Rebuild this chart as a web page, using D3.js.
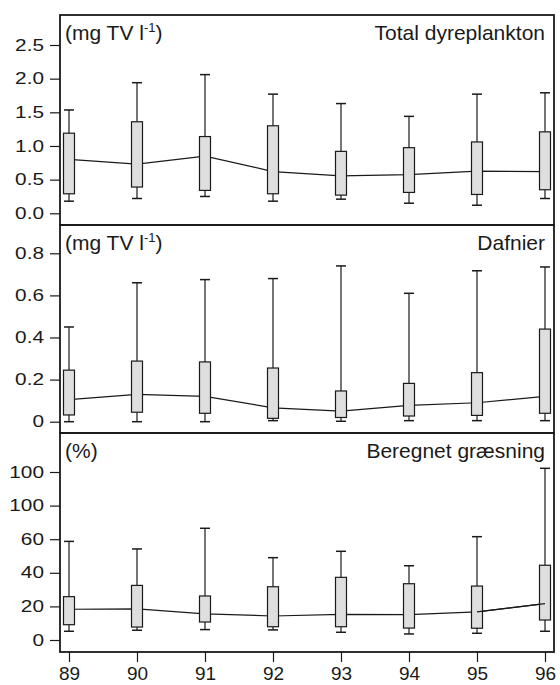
<!DOCTYPE html>
<html>
<head>
<meta charset="utf-8">
<script src="https://cdn.jsdelivr.net/npm/d3@7"></script>
<style>
  html, body { margin: 0; padding: 0; background: #fff; }
  svg { display: block; font-family: Arial, "Liberation Sans", sans-serif; }
</style>
</head>
<body>
<svg id="chart" width="560" height="685"></svg>
<script>
// Years (x categories)
const years = ["89", "90", "91", "92", "93", "94", "95", "96"];

// Total dyreplankton (mg TV l-1): whisker low, box low, median, box high, whisker high
const totalLow    = [0.18, 0.22, 0.25, 0.18, 0.21, 0.15, 0.12, 0.22];
const totalQ1     = [0.29, 0.39, 0.34, 0.29, 0.27, 0.31, 0.28, 0.35];
const totalMedian = [0.80, 0.73, 0.85, 0.62, 0.555, 0.575, 0.625, 0.62];
const totalQ3     = [1.19, 1.36, 1.14, 1.30, 0.92, 0.975, 1.06, 1.21];
const totalHigh   = [1.535, 1.94, 2.06, 1.77, 1.63, 1.44, 1.77, 1.79];

// Dafnier (mg TV l-1)
const dafLow    = [0.0, 0.0, 0.0, 0.005, 0.002, 0.005, 0.005, 0.005];
const dafQ1     = [0.032, 0.045, 0.04, 0.016, 0.02, 0.027, 0.03, 0.04];
const dafMedian = [0.105, 0.13, 0.12, 0.066, 0.05, 0.078, 0.09, 0.12];
const dafQ3     = [0.245, 0.288, 0.284, 0.255, 0.146, 0.182, 0.233, 0.44];
const dafHigh   = [0.45, 0.66, 0.675, 0.68, 0.74, 0.61, 0.717, 0.735];

// Beregnet græsning (%)
const grazLow    = [5.2, 5.8, 6.2, 6.0, 4.6, 3.6, 4.0, 5.2];
const grazQ1     = [9.1, 7.7, 10.7, 7.9, 7.9, 7.1, 7.0, 11.9];
const grazMedian = [18.3, 18.5, 15.5, 14.3, 15.3, 15.1, 16.7, 21.6];
const grazQ3     = [25.8, 32.5, 26.2, 31.7, 37.3, 33.5, 32.1, 44.5];
const grazHigh   = [58.7, 54.2, 66.5, 49.0, 52.8, 44.2, 61.5, 102.2];

// Tick values and labels per panel
const totalTicks = [0, 0.5, 1.0, 1.5, 2.0, 2.5];
const totalTickLabels = ["0.0", "0.5", "1.0", "1.5", "2.0", "2.5"];
const dafTicks = [0, 0.2, 0.4, 0.6, 0.8];
const dafTickLabels = ["0", "0.2", "0.4", "0.6", "0.8"];
const grazTicks = [0, 20, 40, 60, 80, 100];
const grazTickLabels = ["0", "20", "40", "60", "100", "100"];

// Panel titles
const unitLabels = ["mg TV l", "mg TV l", "%"];
const panelTitles = ["Total dyreplankton", "Dafnier", "Beregnet græsning"];

const svg = d3.select("#chart");
const frameLeft = 60, frameRight = 554;
const ink = "#1a1a1a";

// Text sizes (value-axis labels are set wide relative to their height)
const yTickFont = 16, yTickStretch = 1.3;
const xTickFont = 19;
const titleFont = 21;

const x = d3.scalePoint().domain(years).range([69, 545]);

const panels = [
  { top: 15, bottom: 225, domain: [0, 2.5], range: [213.3, 45],
    low: totalLow, q1: totalQ1, med: totalMedian, q3: totalQ3, high: totalHigh,
    ticks: totalTicks, tickLabels: totalTickLabels, unit: unitLabels[0], sup: true, title: panelTitles[0],
    overlaySegment: false },
  { top: 225, bottom: 433, domain: [0, 0.8], range: [421.7, 253.3],
    low: dafLow, q1: dafQ1, med: dafMedian, q3: dafQ3, high: dafHigh,
    ticks: dafTicks, tickLabels: dafTickLabels, unit: unitLabels[1], sup: true, title: panelTitles[1],
    overlaySegment: false },
  { top: 433, bottom: 652, domain: [0, 100], range: [640, 472],
    low: grazLow, q1: grazQ1, med: grazMedian, q3: grazQ3, high: grazHigh,
    ticks: grazTicks, tickLabels: grazTickLabels, unit: unitLabels[2], sup: false, title: panelTitles[2],
    overlaySegment: true }
];

const boxW = 11, capW = 10;

panels.forEach((p) => {
  const y = d3.scaleLinear().domain(p.domain).range(p.range);
  const g = svg.append("g");

  // Value axis on the left
  const axis = d3.axisLeft(y)
    .tickValues(p.ticks)
    .tickFormat((d, i) => p.tickLabels[i])
    .tickSize(10)
    .tickPadding(5);
  const ag = g.append("g").attr("transform", `translate(${frameLeft},0)`).call(axis);
  ag.select(".domain").remove();
  ag.selectAll(".tick line").attr("stroke", ink).attr("stroke-width", 1.2);
  ag.selectAll(".tick text")
    .attr("fill", ink)
    .style("font-size", yTickFont + "px")
    .attr("x", 0)
    .attr("transform", `translate(-16,0) scale(${yTickStretch},1)`);

  // Median line joining the years
  const line = d3.line().x((d, i) => x(years[i])).y(d => y(d));
  g.append("path").datum(p.med)
    .attr("d", line)
    .attr("fill", "none").attr("stroke", ink).attr("stroke-width", 1.2);

  // Boxes and whiskers
  const items = years.map((yr, i) => ({ yr, low: p.low[i], q1: p.q1[i], med: p.med[i], q3: p.q3[i], high: p.high[i] }));
  const bx = g.selectAll("g.box").data(items).enter().append("g").attr("class", "box");
  bx.append("line")
    .attr("x1", d => x(d.yr)).attr("x2", d => x(d.yr))
    .attr("y1", d => y(d.q3)).attr("y2", d => y(d.high))
    .attr("stroke", ink).attr("stroke-width", 1.2);
  bx.append("line")
    .attr("x1", d => x(d.yr)).attr("x2", d => x(d.yr))
    .attr("y1", d => y(d.q1)).attr("y2", d => y(d.low))
    .attr("stroke", ink).attr("stroke-width", 1.2);
  bx.append("line")
    .attr("x1", d => x(d.yr) - capW / 2).attr("x2", d => x(d.yr) + capW / 2)
    .attr("y1", d => y(d.high)).attr("y2", d => y(d.high))
    .attr("stroke", ink).attr("stroke-width", 1.5);
  bx.append("line")
    .attr("x1", d => x(d.yr) - capW / 2).attr("x2", d => x(d.yr) + capW / 2)
    .attr("y1", d => y(d.low)).attr("y2", d => y(d.low))
    .attr("stroke", ink).attr("stroke-width", 1.5);
  bx.append("rect")
    .attr("x", d => x(d.yr) - boxW / 2)
    .attr("width", boxW)
    .attr("y", d => y(d.q3))
    .attr("height", d => y(d.q1) - y(d.q3))
    .attr("fill", "#dedede").attr("stroke", ink).attr("stroke-width", 1.2);

  // Last median segment runs over the final two boxes
  if (p.overlaySegment) {
    const n = p.med.length;
    g.append("path").datum(p.med.slice(n - 2))
      .attr("d", d3.line().x((d, i) => x(years[n - 2 + i])).y(d => y(d)))
      .attr("fill", "none").attr("stroke", ink).attr("stroke-width", 1.2);
  }

  // Frame
  g.append("rect")
    .attr("x", frameLeft).attr("y", p.top)
    .attr("width", frameRight - frameLeft).attr("height", p.bottom - p.top)
    .attr("fill", "none").attr("stroke", ink).attr("stroke-width", 1.8);

  // Unit label (upper left)
  const ut = g.append("text")
    .attr("x", 65).attr("y", p.top + 25)
    .attr("fill", ink).style("font-size", titleFont + "px");
  ut.append("tspan").text("(" + p.unit);
  if (p.sup) {
    ut.append("tspan").attr("dy", -8).style("font-size", "13px").text("-1");
    ut.append("tspan").attr("dy", 8).text(")");
  } else {
    ut.append("tspan").text(")");
  }

  // Panel title (upper right)
  g.append("text")
    .attr("x", 545).attr("y", p.top + 25)
    .attr("text-anchor", "end")
    .attr("fill", ink).style("font-size", titleFont + "px")
    .text(p.title);
});

// Year axis along the bottom
const xAxis = d3.axisBottom(x).tickSize(10).tickPadding(5);
const xg = svg.append("g").attr("transform", `translate(0,652)`).call(xAxis);
xg.select(".domain").remove();
xg.selectAll(".tick line").attr("stroke", ink).attr("stroke-width", 1.2);
xg.selectAll(".tick text").attr("fill", ink).style("font-size", xTickFont + "px");
</script>
</body>
</html>
